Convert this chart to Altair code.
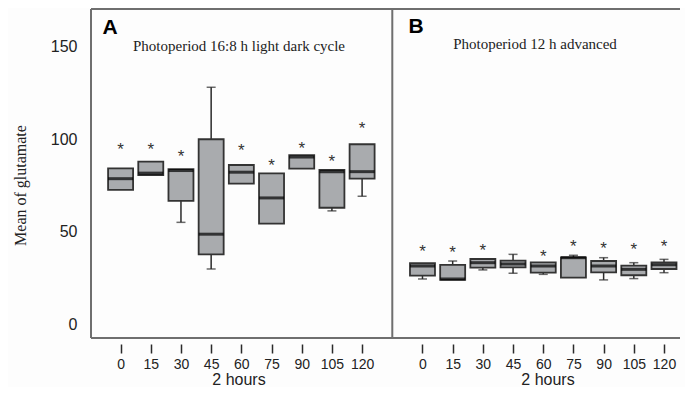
import altair as alt
import pandas as pd

times = [0, 15, 30, 45, 60, 75, 90, 105, 120]

# Panel A: Photoperiod 16:8 h light dark cycle
a_q1 = [72.7, 80.8, 66.8, 37.9, 76.1, 54.5, 84.2, 63.1, 78.8]
a_med = [78.8, 81.8, 83.2, 48.8, 82.3, 68.4, 90.5, 82.6, 82.6]
a_q3 = [84.4, 88.0, 84.0, 100.1, 86.2, 81.7, 91.5, 83.5, 97.4]
a_wlo = [None, None, 55.2, 30.0, None, None, None, 61.4, 69.3]
a_whi = [None, None, None, 128.2, None, None, None, None, None]
a_star = [96.6, 96.6, 92.5, None, 96.1, 88.0, 96.9, 90.2, 107.8]

# Panel B: Photoperiod 12 h advanced
b_q1 = [26.4, 24.1, 30.7, 30.9, 28.0, 25.3, 28.2, 26.6, 30.0]
b_med = [31.6, 24.6, 33.4, 32.7, 31.6, 36.1, 31.6, 29.8, 32.3]
b_q3 = [33.1, 32.2, 35.4, 34.5, 33.6, 36.3, 34.3, 31.8, 33.6]
b_wlo = [24.6, None, 29.5, 27.7, 27.1, None, 24.1, 24.8, 28.0]
b_whi = [None, 34.3, None, 37.9, None, 37.4, 36.1, 33.4, 35.2]
b_star = [41.2, 40.6, 41.7, None, 38.8, 44.2, 43.0, 42.6, 44.2]

y_ticks = [0, 50, 100, 150]

rows, whiskers, stars = [], [], []
for panel, off, q1, med, q3, wlo, whi, st in [
    ("A", 0, a_q1, a_med, a_q3, a_wlo, a_whi, a_star),
    ("B", 10, b_q1, b_med, b_q3, b_wlo, b_whi, b_star),
]:
    for i, t in enumerate(times):
        pos = i + off
        rows.append(dict(panel=panel, time=t, pos=pos, q1=q1[i], med=med[i], q3=q3[i]))
        if wlo[i] is not None:
            whiskers.append(dict(pos=pos, a=q1[i], b=wlo[i]))
        if whi[i] is not None:
            whiskers.append(dict(pos=pos, a=q3[i], b=whi[i]))
        if st[i] is not None:
            stars.append(dict(pos=pos, s=st[i]))

box_df = pd.DataFrame(rows)
wh_df = pd.DataFrame(whiskers)
star_df = pd.DataFrame(stars)

W, H = 599, 329
xdom = [-0.98, 18.53]
ydom = [-7.3, 170.5]
tick_positions = [i for i in range(9)] + [i + 10 for i in range(9)]

xscale = alt.Scale(domain=xdom, nice=False, zero=False)
yscale = alt.Scale(domain=ydom, nice=False, zero=False)

DARK = "#2b2b2b"
FRAME = "#6f6f6f"

x_axis = alt.Axis(
    values=tick_positions,
    labelExpr="datum.value < 9 ? datum.value * 15 : (datum.value - 10) * 15",
    domain=False, grid=False, offset=6, tickSize=9, tickWidth=1.5,
    tickColor=DARK, labelPadding=4, labelFont="Liberation Sans",
    labelFontSize=14, labelColor="#222", title=None,
)
y_axis = alt.Axis(
    values=y_ticks, domain=False, grid=False, ticks=False, labelPadding=9,
    labelFont="Liberation Sans", labelFontSize=16, labelColor="#222",
    title="Mean of glutamate", titleFont="Liberation Serif", titleFontWeight="normal",
    titleFontSize=16, titleColor="#222", titleX=-66, titleY=176, titleAngle=-90,
    titleAlign="center", titleBaseline="middle",
)


def X(field):
    return alt.X(field, scale=xscale, axis=x_axis)


def Y(field):
    return alt.Y(field, scale=yscale, axis=y_axis)


frame_df = pd.DataFrame([
    dict(x=xdom[0], x2=xdom[1], y=ydom[1], y2=ydom[1]),
    dict(x=xdom[0], x2=xdom[1], y=ydom[0], y2=ydom[0]),
    dict(x=xdom[0], x2=xdom[0], y=ydom[0], y2=ydom[1]),
    dict(x=9, x2=9, y=ydom[0], y2=ydom[1]),
])
frame = alt.Chart(frame_df).mark_rule(color=FRAME, strokeWidth=2).encode(
    x=X("x:Q"), x2="x2:Q", y=Y("y:Q"), y2="y2:Q",
)
whisker = alt.Chart(wh_df).mark_rule(color=DARK, strokeWidth=1.5).encode(
    x=X("pos:Q"), y=Y("a:Q"), y2="b:Q",
)
caps = alt.Chart(wh_df).mark_tick(orient="horizontal", color=DARK, size=9, thickness=1.5).encode(
    x=X("pos:Q"), y=Y("b:Q"),
)
boxes = alt.Chart(box_df).mark_bar(
    size=25, fill="#a9abae", stroke="#333333", strokeWidth=1.8
).encode(
    x=X("pos:Q"), y=Y("q1:Q"), y2="q3:Q",
)
medians = alt.Chart(box_df).mark_tick(orient="horizontal", color="#000000", size=25, thickness=3).encode(
    x=X("pos:Q"), y=Y("med:Q"),
)
star_marks = alt.Chart(star_df).mark_text(
    text="*", font="Liberation Sans", fontSize=17, color="#333333", baseline="alphabetic", dy=9
).encode(
    x=X("pos:Q"), y=Y("s:Q"),
)


def label(txt, px, py, baseline="middle", **kw):
    return alt.Chart(pd.DataFrame({"t": [txt]})).mark_text(baseline=baseline, **kw).encode(
        text="t:N", x=alt.value(px), y=alt.value(py)
    )


title_a = label("Photoperiod 16:8 h light dark cycle", 153, 37,
                font="Liberation Serif", fontSize=15, color="#222")
title_b = label("Photoperiod 12 h advanced", 449, 35,
                font="Liberation Serif", fontSize=15, color="#222")
lab_a = label("A", 24, 19, font="Liberation Sans", fontSize=21, fontWeight="bold", color="#000")
lab_b = label("B", 330, 18, font="Liberation Sans", fontSize=21, fontWeight="bold", color="#000")
xt_a = label("2 hours", 153, 376, baseline="alphabetic",
             font="Liberation Sans", fontSize=16, color="#222")
xt_b = label("2 hours", 462, 376, baseline="alphabetic",
             font="Liberation Sans", fontSize=16, color="#222")

chart = alt.layer(
    frame, whisker, caps, boxes, medians, star_marks,
    title_a, title_b, lab_a, lab_b, xt_a, xt_b,
).properties(
    width=W, height=H,
    autosize=alt.AutoSizeParams(type="none"),
    padding={"left": 78, "top": 1, "right": 0, "bottom": 49},
    background="#fdfdfd",
).configure_view(stroke=None)

chart.save("out.html", embed_options={"renderer": "svg", "actions": False})
